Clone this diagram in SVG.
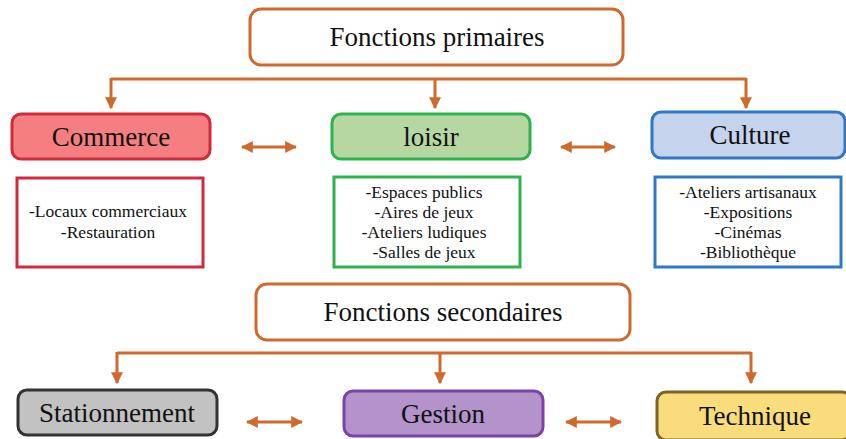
<svg xmlns="http://www.w3.org/2000/svg" width="846" height="439" viewBox="0 0 846 439">
<defs>
<style>
.t{font-family:"Liberation Serif","Times New Roman",serif;fill:#111;text-anchor:middle}
.big{font-size:27px}
.sm{font-size:17.5px}
.ln{fill:none;stroke:#CF6A2C;stroke-width:3}
.title{fill:#fff;stroke:#CF6A2C;stroke-width:3}
</style>
<marker id="ah" viewBox="0 0 10 10" refX="9" refY="5" markerWidth="4" markerHeight="4" orient="auto-start-reverse" markerUnits="strokeWidth">
<path d="M0,0 L10,5 L0,10 z" fill="#CF6A2C"/>
</marker>
</defs>
<rect width="846" height="439" fill="#fff"/>
<g id="connectors">
<path class="ln" d="M111,79 H746"/>
<path class="ln" d="M111,78 V108" marker-end="url(#ah)"/>
<path class="ln" d="M435,78 V108" marker-end="url(#ah)"/>
<path class="ln" d="M746,78 V108" marker-end="url(#ah)"/>
<path class="ln" d="M242,147 H296" marker-start="url(#ah)" marker-end="url(#ah)"/>
<path class="ln" d="M561,147 H615" marker-start="url(#ah)" marker-end="url(#ah)"/>
<path class="ln" d="M117,353 H751"/>
<path class="ln" d="M117,352 V383" marker-end="url(#ah)"/>
<path class="ln" d="M440,352 V383" marker-end="url(#ah)"/>
<path class="ln" d="M751,352 V383" marker-end="url(#ah)"/>
<path class="ln" d="M247,422 H302" marker-start="url(#ah)" marker-end="url(#ah)"/>
<path class="ln" d="M566,422 H621" marker-start="url(#ah)" marker-end="url(#ah)"/>
</g>
<g id="primaires">
<rect class="title" x="250" y="9" width="373" height="56" rx="11"/>
<text class="t big" x="437" y="46">Fonctions primaires</text>
</g>
<g id="commerce">
<rect x="12" y="114" width="198" height="45" rx="9" fill="#F47E80" stroke="#D22A3A" stroke-width="3"/>
<text class="t big" x="111" y="146">Commerce</text>
</g>
<g id="loisir">
<rect x="332" y="114" width="198" height="45" rx="9" fill="#B6D7A2" stroke="#2EB24E" stroke-width="3"/>
<text class="t big" x="431" y="146">loisir</text>
</g>
<g id="culture">
<rect x="652" y="112" width="193" height="46" rx="9" fill="#C6D3EC" stroke="#2E78C8" stroke-width="3"/>
<text class="t big" x="750" y="144">Culture</text>
</g>
<g id="commerce-desc">
<rect x="17" y="178" width="186" height="89" fill="#fff" stroke="#D22A3A" stroke-width="3"/>
<text class="t sm" x="108" y="217">-Locaux commerciaux</text>
<text class="t sm" x="108" y="238">-Restauration</text>
</g>
<g id="loisir-desc">
<rect x="334" y="177" width="186" height="90" fill="#fff" stroke="#2EB24E" stroke-width="3"/>
<text class="t sm" x="424" y="198">-Espaces publics</text>
<text class="t sm" x="424" y="218">-Aires de jeux</text>
<text class="t sm" x="424" y="238">-Ateliers ludiques</text>
<text class="t sm" x="424" y="258">-Salles de jeux</text>
</g>
<g id="culture-desc">
<rect x="655" y="177" width="186" height="90" fill="#fff" stroke="#2E78C8" stroke-width="3"/>
<text class="t sm" x="748" y="198">-Ateliers artisanaux</text>
<text class="t sm" x="748" y="218">-Expositions</text>
<text class="t sm" x="748" y="238">-Cinémas</text>
<text class="t sm" x="748" y="258">-Bibliothèque</text>
</g>
<g id="secondaires">
<rect class="title" x="256" y="284" width="374" height="56" rx="11"/>
<text class="t big" x="443" y="321">Fonctions secondaires</text>
</g>
<g id="stationnement">
<rect x="18" y="390" width="199" height="45" rx="9" fill="#C2C2C2" stroke="#333" stroke-width="3"/>
<text class="t big" x="117" y="422">Stationnement</text>
</g>
<g id="gestion">
<rect x="344" y="391" width="199" height="45" rx="9" fill="#B393C9" stroke="#7B42A8" stroke-width="3"/>
<text class="t big" x="443" y="423">Gestion</text>
</g>
<g id="technique">
<rect x="657" y="392" width="194" height="48" rx="9" fill="#F9DC7C" stroke="#7E6526" stroke-width="3"/>
<text class="t big" x="755" y="425">Technique</text>
</g>
</svg>
